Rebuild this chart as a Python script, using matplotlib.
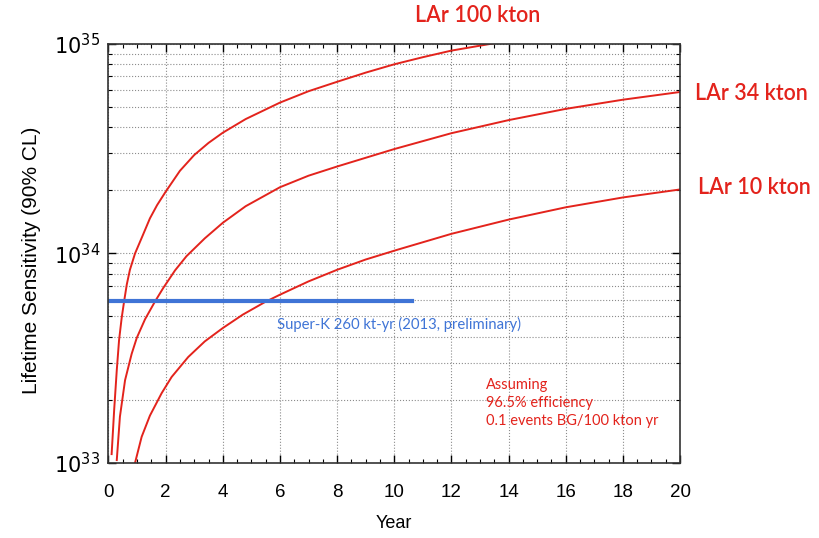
import matplotlib
matplotlib.use('Agg')
import matplotlib.pyplot as plt
from matplotlib.ticker import LogLocator, MultipleLocator, NullFormatter

# values (year, lifetime sensitivity in years)
yr_100 = [0.11, 0.20, 0.29, 0.37, 0.46, 0.55, 0.64, 0.75, 0.93, 1.2, 1.45, 1.7, 2.0, 2.5, 3.0, 3.5,
          4.0, 4.8, 6.0, 7.0, 8.0, 9.0, 10.0, 11.0, 12.0, 13.34, 14.0]
sens_100 = [1.1e33, 1.8e33, 2.77e33, 3.85e33, 4.9e33, 5.94e33, 7.1e33, 8.35e33, 1.0e34, 1.22e34,
            1.47e34, 1.7e34, 1.97e34, 2.48e34, 2.95e34, 3.37e34, 3.77e34, 4.38e34, 5.25e34, 5.95e34,
            6.6e34, 7.3e34, 8.0e34, 8.65e34, 9.3e34, 1.0e35, 1.04e35]

yr_34 = [0.29, 0.40, 0.58, 0.81, 0.99, 1.28, 1.63, 1.92, 2.33, 2.73, 3.37, 4.0, 4.8, 6.0, 7.0, 8.0,
         10.0, 12.0, 14.0, 16.0, 18.0, 20.0]
sens_34 = [1.03e33, 1.66e33, 2.48e33, 3.31e33, 3.95e33, 4.85e33, 5.9e33, 6.85e33, 8.3e33, 9.7e33,
           1.18e34, 1.4e34, 1.68e34, 2.07e34, 2.35e34, 2.6e34, 3.15e34, 3.75e34, 4.33e34,
           4.9e34, 5.42e34, 5.9e34]

yr_10 = [0.93, 1.16, 1.45, 1.86, 2.21, 2.79, 3.37, 4.0, 4.7, 5.47, 6.0, 7.0, 8.0, 9.0, 10.1, 12.0,
         14.0, 16.0, 18.0, 20.0]
sens_10 = [1.0e33, 1.33e33, 1.68e33, 2.15e33, 2.57e33, 3.2e33, 3.8e33, 4.4e33, 5.1e33, 5.85e33,
           6.35e33, 7.35e33, 8.35e33, 9.35e33, 1.04e34, 1.24e34, 1.45e34, 1.66e34, 1.85e34, 2.02e34]

superk_years = [0, 10.62]
superk_limit = 5.9e33

labels = ['LAr 100 kton', 'LAr 34 kton', 'LAr 10 kton']
red = '#e3231c'
blue = '#3f74d6'

fig = plt.figure(figsize=(8.2, 5.38), dpi=100)
ax = fig.add_axes([0.1323, 0.1398, 0.697, 0.7784])

for xs, ys in [(yr_100, sens_100), (yr_34, sens_34), (yr_10, sens_10)]:
    ax.plot(xs, ys, color=red, lw=1.4, solid_joinstyle='round')

ax.plot(superk_years, [superk_limit, superk_limit], color=blue, lw=3)

ax.set_yscale('log')
ax.set_xlim(0, 20)
ax.set_ylim(1e33, 1e35)
ax.xaxis.set_major_locator(MultipleLocator(2))
ax.xaxis.set_minor_locator(MultipleLocator(0.5))
ax.yaxis.set_major_locator(LogLocator(base=10, numticks=5))
ax.yaxis.set_minor_locator(LogLocator(base=10, subs=range(2, 10), numticks=20))
ax.yaxis.set_minor_formatter(NullFormatter())

ax.grid(True, which='major', axis='x', linestyle=':', color='#8c8c8c', lw=0.8)
ax.grid(True, which='both', axis='y', linestyle=':', color='#8c8c8c', lw=0.8)

ax.tick_params(which='both', direction='in', top=True, right=True)
ax.tick_params(which='major', length=6, width=1)
ax.tick_params(which='minor', length=3, width=0.8)
ax.tick_params(axis='x', labelsize=13.5, pad=15)
ax.tick_params(axis='y', labelsize=15, pad=6)
for lab in ax.get_xticklabels():
    lab.set_family('Liberation Sans')

for s in ax.spines.values():
    s.set_color('#333333')
    s.set_linewidth(1.2)

ax.set_xlabel('Year', fontsize=13, family='Liberation Sans', va='center')
ax.xaxis.set_label_coords(0.5, -0.144)
ax.set_ylabel('Lifetime Sensitivity (90% CL)', fontsize=15, family='Liberation Sans', va='center')
ax.yaxis.set_label_coords(-0.134, 0.484)

ax.text(5.9, 4.6e33, 'Super-K 260 kt-yr (2013, preliminary)', color=blue, fontsize=10.7,
        family='Lato', va='center')
ax.text(13.2, 1.93e33, 'Assuming\n96.5% efficiency\n0.1 events BG/100 kton yr', color=red,
        fontsize=10.5, family='Lato', va='center', linespacing=1.34)

fig.text(0.506, 0.972, labels[0], color=red, fontsize=15.5, family='Lato', va='center', weight='semibold')
fig.text(0.848, 0.826, labels[1], color=red, fontsize=15.5, family='Lato', va='center', weight='semibold')
fig.text(0.851, 0.652, labels[2], color=red, fontsize=15.5, family='Lato', va='center', weight='semibold')

fig.savefig('out.png', dpi=100)
